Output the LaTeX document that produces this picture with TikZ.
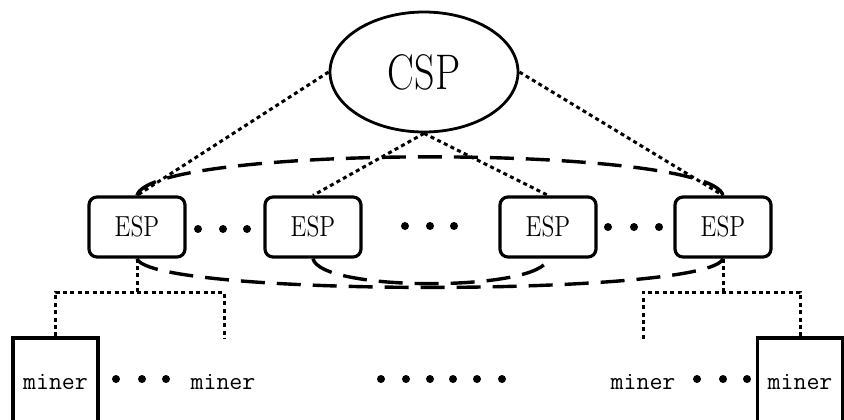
\documentclass[tikz,border=0pt]{standalone}
\usepackage{tikz}
\usepackage{graphicx}
\usetikzlibrary{shapes.geometric}

\tikzset{
  csp/.style={draw,ellipse,line width=1.4pt,minimum width=94pt,minimum height=60pt,inner sep=0pt},
  esp/.style={draw,rounded corners=4pt,line width=1.6pt,minimum width=48pt,minimum height=30pt,inner sep=0pt},
  minerbox/.style={draw,line width=1.6pt,minimum width=42.5pt,minimum height=44pt,inner sep=0pt},
  minertext/.style={inner sep=0pt,font=\fontsize{12.6}{14}\ttfamily},
  link/.style={line width=1.5pt,dash pattern=on 2pt off 1.7pt},
  ring/.style={line width=1.7pt,dash pattern=on 12pt off 6pt},
}

\begin{document}
\begin{tikzpicture}[x=0.5pt,y=-0.5pt]

\useasboundingbox (0,0) rectangle (844,419);
\clip (0,0) rectangle (844,419);

\node [csp] (csp) at (424,72) {\fontsize{25}{28}\selectfont\scalebox{0.8}[1]{CSP}};

\node [esp] (e1) at (137,227) {\fontsize{14.5}{16}\selectfont\scalebox{0.82}[1]{ESP}};
\node [esp] (e2) at (313,227) {\fontsize{14.5}{16}\selectfont\scalebox{0.82}[1]{ESP}};
\node [esp] (e3) at (548,227) {\fontsize{14.5}{16}\selectfont\scalebox{0.82}[1]{ESP}};
\node [esp] (e4) at (723,227) {\fontsize{14.5}{16}\selectfont\scalebox{0.82}[1]{ESP}};

\node [minerbox,minertext] (m1) at (55.5,382) {miner};
\node [minertext] (m2) at (223,382) {miner};
\node [minertext] (m3) at (643,382) {miner};
\node [minerbox,minertext] (m4) at (800,382) {miner};

% CSP to ESPs
\draw [link] (csp.west) -- (e1.north);
\draw [link] (csp.east) -- (e4.north);
\draw [link] (csp.south) -- (e2.north);
\draw [link] (csp.south) -- (e3.north);

% ESP group
\draw [ring] (e1.north) .. controls (150,144) and (710,144) .. (e4.north);
\draw [ring] (e1.south) .. controls (150,297) and (710,297) .. (e4.south);
\draw [ring] (e2.south) .. controls (320,292) and (541,292) .. (e3.south);

% miners
\coordinate (j1) at (137,292);
\coordinate (f1) at (224,339);
\draw [link] (e1.south) -- (j1);
\draw [link] (m1.north) |- (j1) -| (f1);

\coordinate (j4) at (723,292);
\coordinate (f4) at (643,339);
\draw [link] (e4.south) -- (j4);
\draw [link] (m4.north) |- (j4) -| (f4);

% dots
\foreach \x/\y in {198/229,223/229,247/229,405/226,430/226,454/226,608/227,634/227,659/227,
  116/379,142/379,166/379,697/379,723/379,747/379,
  381/379,406/379,430/379,453/379,477/379,502/379}
  \fill (\x,\y) circle (2pt);

\end{tikzpicture}
\end{document}
